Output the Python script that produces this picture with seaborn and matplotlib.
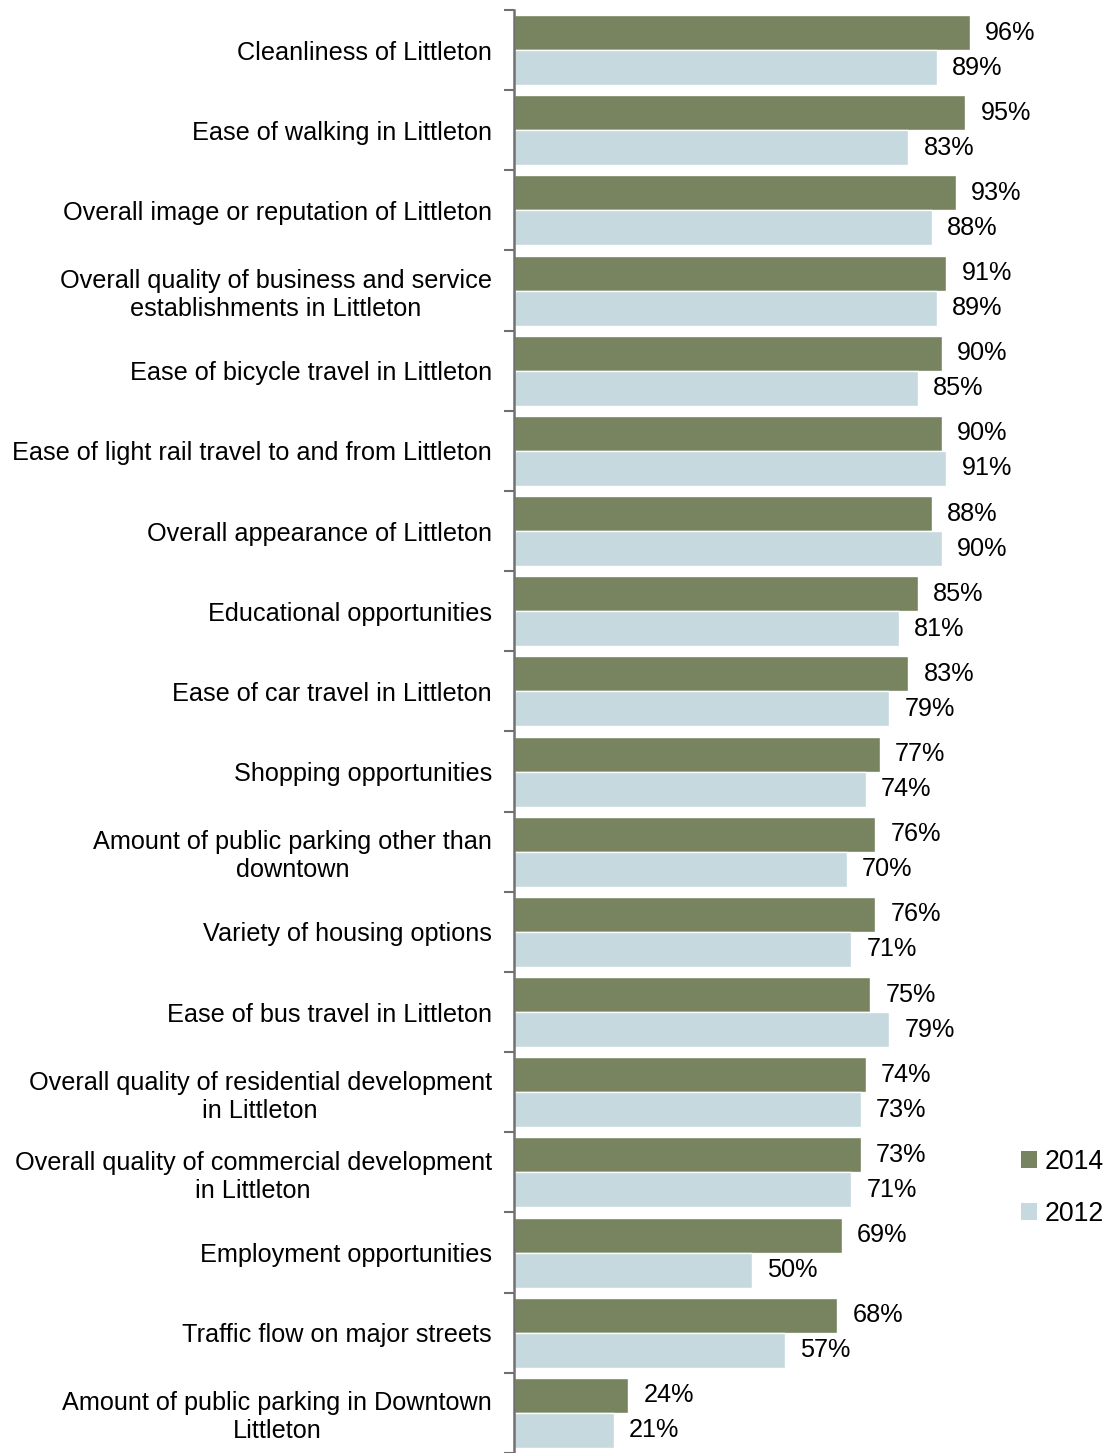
import matplotlib
matplotlib.use("Agg")
import matplotlib.pyplot as plt
from matplotlib.patches import Patch
import seaborn as sns
import pandas as pd
import numpy as np

categories = [
    "Cleanliness of Littleton",
    "Ease of walking in Littleton",
    "Overall image or reputation of Littleton",
    "Overall quality of business and service\nestablishments in Littleton",
    "Ease of bicycle travel in Littleton",
    "Ease of light rail travel to and from Littleton",
    "Overall appearance of Littleton",
    "Educational opportunities",
    "Ease of car travel in Littleton",
    "Shopping opportunities",
    "Amount of public parking other than\ndowntown",
    "Variety of housing options",
    "Ease of bus travel in Littleton",
    "Overall quality of residential development\nin Littleton",
    "Overall quality of commercial development\nin Littleton",
    "Employment opportunities",
    "Traffic flow on major streets",
    "Amount of public parking in Downtown\nLittleton",
]
values_2014 = [96, 95, 93, 91, 90, 90, 88, 85, 83, 77, 76, 76, 75, 74, 73, 69, 68, 24]
values_2012 = [89, 83, 88, 89, 85, 91, 90, 81, 79, 74, 70, 71, 79, 73, 71, 50, 57, 21]
years = ["2014", "2012"]
colors = {"2014": "#77845F", "2012": "#C5D9DF"}

df = pd.DataFrame({
    "category": categories * 2,
    "year": ["2014"] * len(categories) + ["2012"] * len(categories),
    "value": values_2014 + values_2012,
})

sns.set_theme(style="white")
plt.rcParams["font.family"] = ["Liberation Sans", "DejaVu Sans"]
plt.rcParams["text.color"] = "black"
plt.rcParams["ytick.color"] = "black"

FS = 18.2

W, H = 1109, 1453
fig = plt.figure(figsize=(W / 100, H / 100), dpi=100)
ax_left, ax_right = 514, 989
ax_top, ax_bottom = 10, 1453
ax = fig.add_axes([ax_left / W, 1 - ax_bottom / H, (ax_right - ax_left) / W, (ax_bottom - ax_top) / H])

sns.barplot(data=df, y="category", x="value", hue="year", hue_order=years,
            order=categories, palette=colors, orient="h", width=0.875,
            saturation=1, legend=False, ax=ax)

ax.set_xlim(0, 100)
ax.set_ylim(len(categories) - 0.5, -0.5)
ax.set_xlabel("")
ax.set_ylabel("")
ax.set_xticks([])

for container in ax.containers:
    ax.bar_label(container, labels=[f"{v:.0f}%" for v in container.datavalues],
                 padding=11, fontsize=FS, color="black")

ax.set_yticks(np.arange(len(categories)))
ax.set_yticklabels(categories, fontsize=FS, multialignment="center", color="black")
ax.set_yticks(np.arange(-0.5, len(categories)), minor=True)
ax.tick_params(axis="y", which="major", left=True, length=0, pad=16)
ax.tick_params(axis="y", which="minor", left=True, length=7, width=1.5,
               color="#707070", direction="out")

for side in ["top", "right", "bottom"]:
    ax.spines[side].set_visible(False)
ax.spines["left"].set_color("#707070")
ax.spines["left"].set_linewidth(1.8)

handles = [Patch(facecolor=colors[y], edgecolor="none") for y in years]
fig.legend(handles, years, loc="center left", bbox_to_anchor=(1021 / W, 1 - 1188 / H),
           frameon=False, fontsize=FS + 1, handlelength=0.6, handleheight=0.6,
           handletextpad=0.3, labelspacing=0.95, borderpad=0, borderaxespad=0)

fig.savefig("out.png", dpi=100, facecolor="white")
